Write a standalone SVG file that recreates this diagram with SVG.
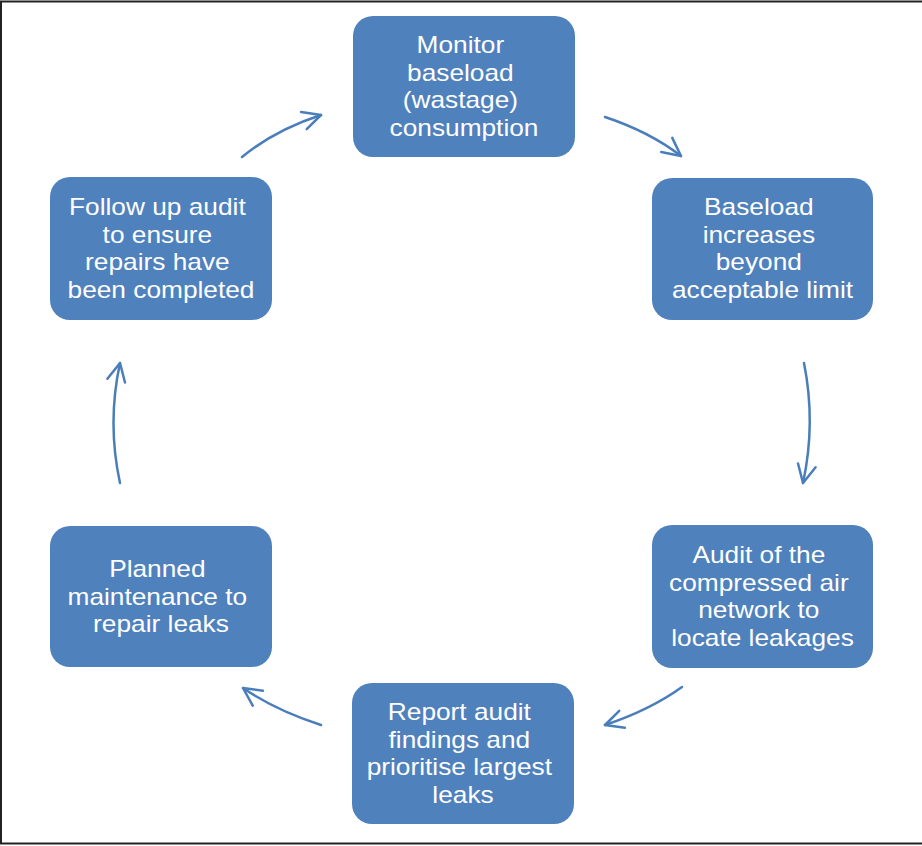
<svg xmlns="http://www.w3.org/2000/svg" width="922" height="846" viewBox="0 0 922 846">
  <style>
    .box { fill: #4F81BD; }
    .label { fill: #ffffff; font-family: "Liberation Sans", Arial, sans-serif; font-size: 24px; text-anchor: middle; }
    .flow { fill: none; stroke: #4A7EBB; stroke-width: 2.5; stroke-linecap: round; }
    .frame { fill: none; stroke: #222222; stroke-width: 2; }
  </style>
  <defs>
    <marker id="open-head" markerUnits="userSpaceOnUse" markerWidth="30" markerHeight="30" viewBox="-24 -15 30 30" refX="0" refY="0" orient="auto">
      <path d="M-18,-9 L0,0 L-18,9" fill="none" stroke="#4A7EBB" stroke-width="2.5" stroke-linecap="round" stroke-linejoin="round"/>
    </marker>
  </defs>

  <rect x="0" y="0" width="922" height="846" fill="#ffffff"/>
  <path class="frame" d="M925,1.5 H1 V843.5 H925"/>

  <g id="connectors">
    <path class="flow" d="M242,157 Q275,130 321,115" marker-end="url(#open-head)"/>
    <path class="flow" d="M605,117 Q650,132 681,156" marker-end="url(#open-head)"/>
    <path class="flow" d="M804,363 Q816,423 803,483" marker-end="url(#open-head)"/>
    <path class="flow" d="M682,687 Q650,710 605,725" marker-end="url(#open-head)"/>
    <path class="flow" d="M321,725 Q275,710 243,688" marker-end="url(#open-head)"/>
    <path class="flow" d="M120,483 Q107,423 120,363" marker-end="url(#open-head)"/>
  </g>

  <g id="monitor">
    <rect class="box" x="353" y="16" width="222" height="141" rx="20"/>
    <text class="label" transform="translate(464,53) scale(1.095,1)">
      <tspan x="0" y="0">Monitor</tspan>
      <tspan x="0" dy="27.6">baseload</tspan>
      <tspan x="0" dy="27.6">(wastage)</tspan>
      <tspan x="0" dy="27.6">consumption</tspan>
    </text>
  </g>

  <g id="baseload-increase">
    <rect class="box" x="652" y="178" width="221" height="142" rx="20"/>
    <text class="label" transform="translate(762.5,215) scale(1.095,1)">
      <tspan x="0" y="0">Baseload</tspan>
      <tspan x="0" dy="27.6">increases</tspan>
      <tspan x="0" dy="27.6">beyond</tspan>
      <tspan x="0" dy="27.6">acceptable limit</tspan>
    </text>
  </g>

  <g id="audit-network">
    <rect class="box" x="652" y="525" width="221" height="143" rx="20"/>
    <text class="label" transform="translate(762.5,563) scale(1.095,1)">
      <tspan x="0" y="0">Audit of the</tspan>
      <tspan x="0" dy="27.6">compressed air</tspan>
      <tspan x="0" dy="27.6">network to</tspan>
      <tspan x="0" dy="27.6">locate leakages</tspan>
    </text>
  </g>

  <g id="report-findings">
    <rect class="box" x="352" y="683" width="222" height="141" rx="20"/>
    <text class="label" transform="translate(463,720) scale(1.095,1)">
      <tspan x="0" y="0">Report audit</tspan>
      <tspan x="0" dy="27.6">findings and</tspan>
      <tspan x="0" dy="27.6">prioritise largest</tspan>
      <tspan x="0" dy="27.6">leaks</tspan>
    </text>
  </g>

  <g id="planned-maintenance">
    <rect class="box" x="50" y="526" width="222" height="141" rx="20"/>
    <text class="label" transform="translate(161,577) scale(1.095,1)">
      <tspan x="0" y="0">Planned</tspan>
      <tspan x="0" dy="27.6">maintenance to</tspan>
      <tspan x="0" dy="27.6">repair leaks</tspan>
    </text>
  </g>

  <g id="follow-up">
    <rect class="box" x="50" y="177" width="222" height="143" rx="20"/>
    <text class="label" transform="translate(161,215) scale(1.095,1)">
      <tspan x="0" y="0">Follow up audit</tspan>
      <tspan x="0" dy="27.6">to ensure</tspan>
      <tspan x="0" dy="27.6">repairs have</tspan>
      <tspan x="0" dy="27.6">been completed</tspan>
    </text>
  </g>
</svg>
